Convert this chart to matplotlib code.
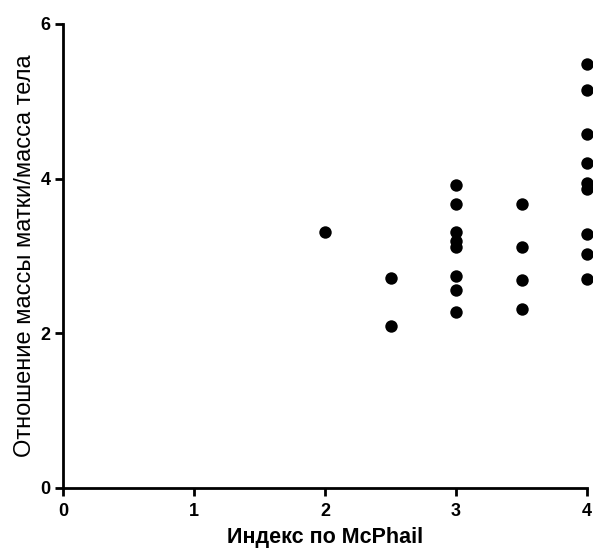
import matplotlib
matplotlib.use("Agg")
import matplotlib.pyplot as plt

# Data
x_vals = [2.0,
          2.5, 2.5,
          3.0, 3.0, 3.0, 3.0, 3.0, 3.0, 3.0, 3.0,
          3.5, 3.5, 3.5, 3.5,
          4.0, 4.0, 4.0, 4.0, 4.0, 4.0, 4.0, 4.0, 4.0]
y_vals = [3.31,
          2.71, 2.09,
          3.92, 3.67, 3.31, 3.19, 3.12, 2.74, 2.56, 2.28,
          3.67, 3.11, 2.69, 2.31,
          5.48, 5.15, 4.58, 4.20, 3.95, 3.87, 3.28, 3.03, 2.70]
x_ticks = [0, 1, 2, 3, 4]
y_ticks = [0, 2, 4, 6]
x_label = "Индекс по McPhail"
y_label = "Отношение массы матки/масса тела"

plt.rcParams['font.family'] = ['Liberation Sans', 'DejaVu Sans']

fig = plt.figure(figsize=(5.93, 5.49), dpi=100)
ax = fig.add_axes([63/593, 1-488/549, (587-63)/593, (488-24)/549])

ax.scatter(x_vals, y_vals, s=80, color='black', clip_on=False, zorder=3, linewidths=0)

ax.set_xlim(0, 4)
ax.set_ylim(0, 6)
ax.set_xticks(x_ticks)
ax.set_yticks(y_ticks)
ax.set_xticklabels([str(t) for t in x_ticks], fontweight='bold', fontsize=13)
ax.set_yticklabels([str(t) for t in y_ticks], fontweight='bold', fontsize=13)

for side in ['top', 'right']:
    ax.spines[side].set_visible(False)
for side in ['left', 'bottom']:
    ax.spines[side].set_linewidth(2)
ax.tick_params(axis='both', direction='out', length=6, width=2)
ax.tick_params(axis='x', pad=5)
ax.tick_params(axis='y', pad=3)

ax.set_xlabel(x_label, fontweight='bold', fontsize=15.5, labelpad=5)
ax.set_ylabel(y_label, fontsize=17, labelpad=3.5)

fig.savefig("out.png", dpi=100)
